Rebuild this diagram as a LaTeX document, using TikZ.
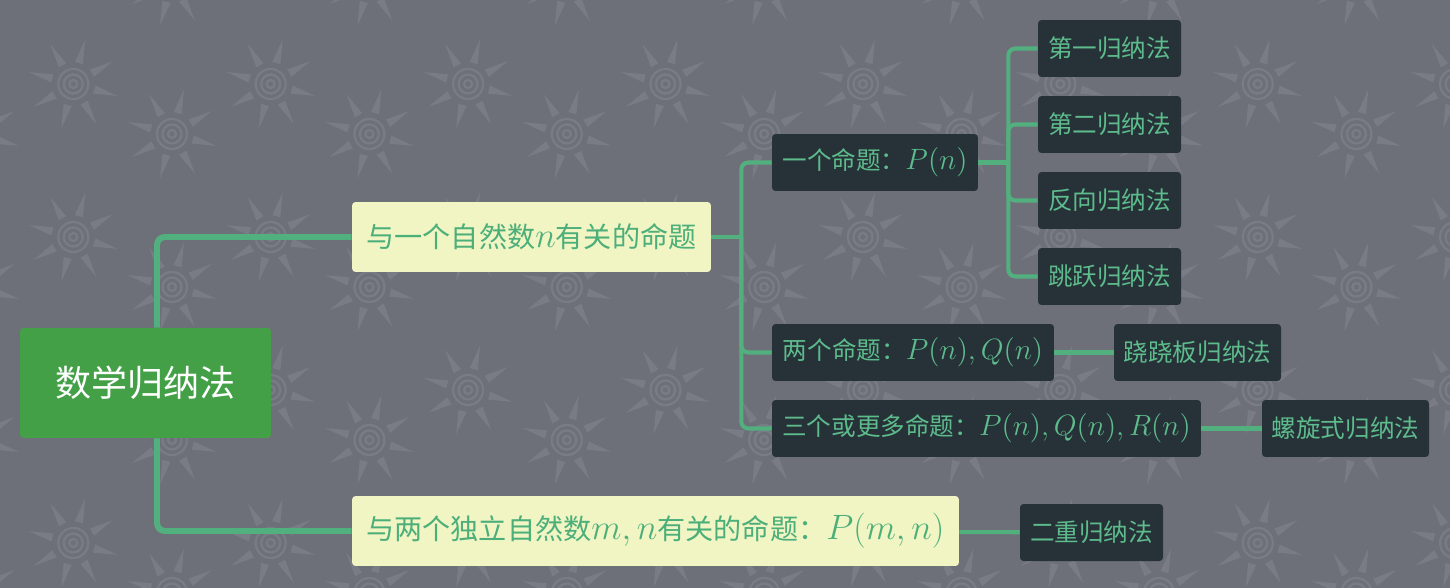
\documentclass[tikz,border=0pt]{standalone}
\usepackage{fontspec}
\newfontfamily\cjk{Noto Sans CJK SC}
\usepackage{tikz}
\usetikzlibrary{positioning}
\definecolor{bgcol}{HTML}{6E7079}
\definecolor{suncol}{HTML}{797C85}
\definecolor{rootgreen}{HTML}{43A047}
\definecolor{linegreen}{HTML}{52B07F}
\definecolor{leafgreen}{HTML}{5DBB8C}
\definecolor{topicgreen}{HTML}{4CAF7A}
\definecolor{paleyellow}{HTML}{F0F5C3}
\definecolor{slate}{HTML}{263238}
\tikzset{
  rootnode/.style={fill=rootgreen, text=white, rounded corners=2pt, inner sep=0pt, minimum width=5.02cm, minimum height=2.2cm, font=\cjk\fontsize{20.5}{24}\selectfont},
  topicnode/.style={fill=paleyellow, text=topicgreen, rounded corners=2pt, inner sep=0pt, minimum height=1.4cm, font=\cjk\fontsize{16}{19}\selectfont},
  leafnode/.style={fill=slate, text=leafgreen, rounded corners=2pt, inner sep=0pt, minimum height=1.14cm, font=\cjk\fontsize{14}{17}\selectfont},
  trunk/.style={draw=linegreen, line width=3.4pt, rounded corners=0.16cm},
  branch/.style={draw=linegreen, line width=2.3pt, rounded corners=0.14cm}
}
% math a little larger than the text, as in the mind map
\newcommand{\mth}[1]{\scalebox{1.16}{$#1$}}
\newcommand{\sunmark}[2]{%
  \begin{scope}[shift={(#1,#2)}]
    \foreach \a in {15,60,...,330}
      \fill[suncol] (\a-11:22) -- (\a:46) -- (\a+11:22) -- cycle;
    \draw[suncol, line width=1.3pt] (0,0) circle (4) (0,0) circle (9.5) (0,0) circle (15);
  \end{scope}}

\begin{document}
\begin{tikzpicture}[x=0.02cm, y=-0.02cm]
  \fill[bgcol] (0,0) rectangle (1450,588);
  \useasboundingbox (0,0) rectangle (1450,588);
  % background pattern
  \foreach \k in {-2,...,15}{
    \pgfmathsetmacro{\sx}{172+98.7*\k}
    \pgfmathsetmacro{\sy}{isodd(\k) ? 84 : 134}
    \foreach \j in {-1,...,4}
      \sunmark{\sx}{\sy+153*\j};
  }

  \node[rootnode] (root) at (145.5,383) {数学归纳法};
  \node[topicnode, minimum width=7.18cm] (one) at (531.5,237) {与一个自然数\mth{n}有关的命题};
  \node[topicnode, minimum width=12.14cm] (two) at (655.5,531) {与两个独立自然数\mth{m,n}有关的命题：\mth{P(m,n)}};

  \node[leafnode, minimum width=4.12cm] (p1) at (875,162.5) {一个命题：\mth{P(n)}};
  \node[leafnode, minimum width=5.64cm] (p2) at (913,352.5) {两个命题：\mth{P(n),Q(n)}};
  \node[leafnode, minimum width=8.58cm] (p3) at (986.5,428.5) {三个或更多命题：\mth{P(n),Q(n),R(n)}};

  \node[leafnode, minimum width=2.86cm] (first) at (1109.5,48.5) {第一归纳法};
  \node[leafnode, minimum width=2.86cm] (second) at (1109.5,124.5) {第二归纳法};
  \node[leafnode, minimum width=2.86cm] (reverse) at (1109.5,200.5) {反向归纳法};
  \node[leafnode, minimum width=2.86cm] (jump) at (1109.5,276.5) {跳跃归纳法};
  \node[leafnode, minimum width=3.34cm] (seesaw) at (1197.5,352.5) {跷跷板归纳法};
  \node[leafnode, minimum width=3.34cm] (spiral) at (1345.5,428.5) {螺旋式归纳法};
  \node[leafnode, minimum width=2.86cm] (double) at (1091.5,532.5) {二重归纳法};

  \draw[trunk] ([xshift=0.23cm]root.north) |- (one.west);
  \draw[trunk] ([xshift=0.23cm]root.south) |- (two.west);

  \path (one.east) ++(30,0) coordinate (j1);
  \draw[branch] (one.east) -- (j1);
  \foreach \t in {p1,p2,p3}
    \draw[branch] (j1) |- (\t.west);

  \path (p1.east) ++(30,0) coordinate (j2);
  \draw[branch] (p1.east) -- (j2);
  \foreach \t in {first,second,reverse,jump}
    \draw[branch] (j2) |- (\t.west);

  \draw[branch] (p2) -- (seesaw);
  \draw[branch] (p3) -- (spiral);
  \draw[branch] (two) -- (double);
\end{tikzpicture}
\end{document}
